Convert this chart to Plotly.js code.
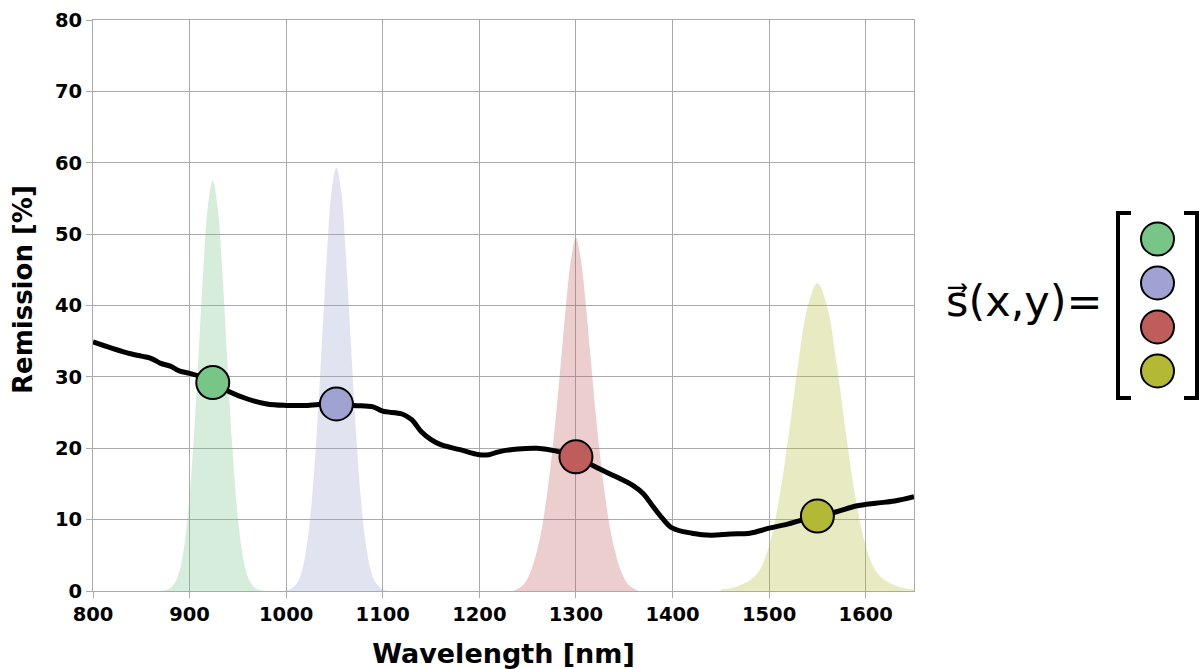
<!DOCTYPE html>
<html><head><meta charset="utf-8">
<script src="https://cdn.plot.ly/plotly-3.0.1.min.js"></script>
<style>html,body{margin:0;padding:0;background:#fff;}#chart{width:1203px;height:669px;}</style>
</head><body><div id="chart"></div>
<script>
// Remission spectrum
const specX = [800,820,840,850,860,870,880,890,900,910,924,940,960,980,1000,1020,1040,1052,1070,1090,1100,1120,1130,1140,1150,1160,1180,1200,1210,1220,1240,1260,1280,1300,1320,1340,1360,1370,1380,1390,1400,1420,1440,1460,1480,1500,1520,1530,1550,1570,1590,1610,1630,1650];
const specY = [34.9,34.0,33.2,32.9,32.6,31.9,31.5,30.8,30.5,30.1,29.2,28.0,26.9,26.2,26.0,26.0,26.2,26.2,26.0,25.8,25.2,24.8,24.0,22.3,21.2,20.5,19.8,19.1,19.1,19.5,19.9,20.0,19.6,18.8,17.4,16.1,14.7,13.6,11.8,10.1,8.8,8.1,7.8,8.0,8.1,8.8,9.4,9.8,10.5,11.1,11.9,12.3,12.6,13.2];

// Illumination bands
const greenX = [869,874,879,884,889,894,899,904,909,914,919,924,929,934,939,944,949,954,959,964,969,974,979];
const greenY = [0,0.1,0.3,1.0,2.5,5.8,11.7,20.7,32.4,44.6,53.9,57.5,53.9,44.6,32.4,20.7,11.7,5.8,2.5,1.0,0.3,0.1,0];
const blueX = [997,1002,1007,1012,1017,1022,1027,1032,1037,1042,1047,1052,1057,1062,1067,1072,1077,1082,1087,1092,1097,1102,1107];
const blueY = [0,0.15,0.5,1.3,3.2,7.0,13.4,22.9,34.7,46.7,55.9,59.3,55.9,46.7,34.7,22.9,13.4,7.0,3.2,1.3,0.5,0.15,0];
const redX = [1235,1240,1245,1250,1255,1260,1265,1270,1275,1280,1285,1290,1295,1300,1305,1310,1315,1320,1325,1330,1335,1340,1345,1350,1355,1360,1365];
const redY = [0,0.3,0.8,1.8,3.4,5.8,9,13.5,19,25.5,33,40.5,46.5,49.5,46.5,40.5,33,25.5,19,13.5,9,5.8,3.4,1.8,0.8,0.3,0];
const yellowX = [1450,1460,1470,1480,1490,1500,1510,1520,1530,1540,1550,1560,1570,1580,1590,1600,1610,1620,1630,1640,1650];
const yellowY = [0.2,0.4,0.8,1.5,2.9,6.3,12.6,21.6,31.7,39.9,43.1,39.9,31.7,21.6,12.6,6.3,2.9,1.5,0.8,0.4,0.2];

// Sample points
const sampleX = [924,1052,1300,1550];
const sampleY = [29.2,26.2,18.8,10.5];
const sampleColors = ['#77c587','#a0a3d2','#bf5c5c','#b3b835'];
const fillColors = ['rgba(119,197,135,0.30)','rgba(160,163,210,0.30)','rgba(191,92,92,0.30)','rgba(179,184,53,0.30)'];

const xTicks = [800,900,1000,1100,1200,1300,1400,1500,1600];
const yTicks = [0,10,20,30,40,50,60,70,80];

function band(x,y,c){
  return {x:x,y:y,type:'scatter',mode:'lines',fill:'tozeroy',fillcolor:c,
    line:{width:0,shape:'spline',color:c},hoverinfo:'skip',showlegend:false};
}
const traces = [
  band(greenX,greenY,fillColors[0]),
  band(blueX,blueY,fillColors[1]),
  band(redX,redY,fillColors[2]),
  band(yellowX,yellowY,fillColors[3]),
  {x:specX,y:specY,type:'scatter',mode:'lines',line:{color:'#000',width:5,shape:'spline'},showlegend:false},
  {x:sampleX,y:sampleY,type:'scatter',mode:'markers',marker:{size:33,color:sampleColors,line:{color:'#000',width:2}},showlegend:false}
];

// Vector on the right (paper coords relative to plot area)
const L=93, W=821, B=591, H=571;
const px=(v)=>(v-L)/W, py=(v)=>(B-v)/H;
const shapes = [
  {type:'path',xref:'paper',yref:'paper',path:`M ${px(1131)},${py(213)} L ${px(1118)},${py(213)} L ${px(1118)},${py(398)} L ${px(1131)},${py(398)}`,line:{color:'#000',width:4}},
  {type:'path',xref:'paper',yref:'paper',path:`M ${px(1184)},${py(213)} L ${px(1197)},${py(213)} L ${px(1197)},${py(398)} L ${px(1184)},${py(398)}`,line:{color:'#000',width:4}}
];
const circY=[239,283,327,371];
sampleColors.forEach((c,i)=>{
  shapes.push({type:'circle',xref:'paper',yref:'paper',xsizemode:'pixel',ysizemode:'pixel',
    xanchor:px(1157.5),yanchor:py(circY[i]),x0:-16.5,x1:16.5,y0:-16.5,y1:16.5,
    fillcolor:c,line:{color:'#000',width:2}});
});

const layout = {
  width:1203,height:669,
  margin:{l:93,r:289,t:20,b:78},
  paper_bgcolor:'#fff',plot_bgcolor:'#fff',
  font:{family:'DejaVu Sans',color:'#000'},
  xaxis:{range:[800,1650],tickvals:xTicks,ticktext:xTicks.map(String),
    showgrid:true,gridcolor:'#aaaaaa',gridwidth:1,zeroline:false,
    showline:true,linecolor:'#aaaaaa',linewidth:1,mirror:true,
    ticks:'outside',ticklen:6,tickcolor:'#aaaaaa',
    tickfont:{family:'DejaVu Sans',size:19.5,weight:'bold'},
    title:{text:'<b>Wavelength [nm]</b>',font:{family:'DejaVu Sans',size:27},standoff:18}},
  yaxis:{range:[0,80],tickvals:yTicks,ticktext:yTicks.map(String),
    showgrid:true,gridcolor:'#aaaaaa',gridwidth:1,zeroline:false,
    showline:true,linecolor:'#aaaaaa',linewidth:1,mirror:true,
    ticks:'outside',ticklen:6,tickcolor:'#aaaaaa',
    tickfont:{family:'DejaVu Sans',size:19.5,weight:'bold'}},
  shapes:shapes,
  annotations:[
    {xref:'paper',yref:'paper',x:px(23),y:py(290),xanchor:'center',yanchor:'middle',textangle:-90,
     text:'<b>Remission [%]</b>',showarrow:false,font:{family:'DejaVu Sans',size:26,color:'#000'}},
    {xref:'paper',yref:'paper',x:px(944),y:py(301),xanchor:'left',yanchor:'middle',
     text:'s\u20D7(x,y)=',showarrow:false,font:{family:'DejaVu Sans',size:43,color:'#000'}}
  ]
};
Plotly.newPlot('chart',traces,layout,{displayModeBar:false,staticPlot:true});
</script></body></html>
